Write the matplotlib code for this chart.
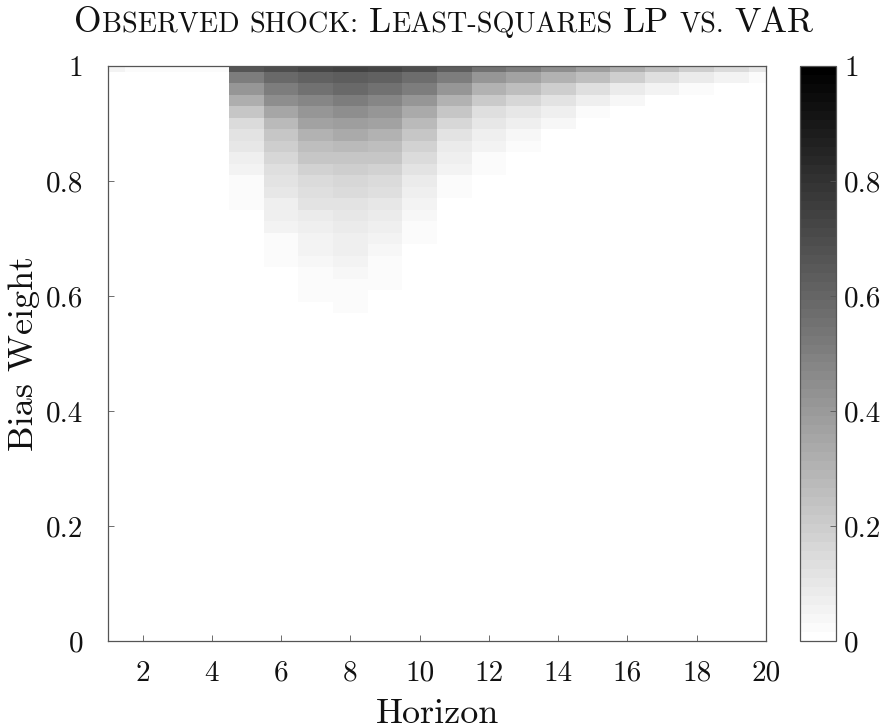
import numpy as np
import matplotlib
matplotlib.use("Agg")
import matplotlib.pyplot as plt
from matplotlib.offsetbox import TextArea, HPacker, AnnotationBbox

plt.rcParams["font.family"] = "cmr10"
plt.rcParams["axes.formatter.use_mathtext"] = True

# horizons (x) and bias-weight grid (y, step 0.02, read top-down from 1.00)
horizons = np.arange(1, 21)
weights = np.round(np.arange(1.00, 0.555, -0.02), 2)

# shading value per horizon, from weight 1.00 downwards (rest is zero / white)
col_values = [
    [0.06],
    [0.03],
    [0.03],
    [0.03],
    [0.66, 0.50, 0.41, 0.32, 0.22, 0.15, 0.12, 0.10, 0.07, 0.06, 0.03, 0.03, 0.03],
    [0.70, 0.58, 0.51, 0.44, 0.35, 0.28, 0.23, 0.20, 0.17, 0.14, 0.11, 0.10, 0.07,
     0.07, 0.05, 0.03, 0.03, 0.03],
    [0.72, 0.61, 0.55, 0.48, 0.42, 0.36, 0.30, 0.25, 0.22, 0.18, 0.15, 0.14, 0.11,
     0.09, 0.07, 0.06, 0.05, 0.04, 0.03, 0.03, 0.03],
    [0.74, 0.64, 0.58, 0.51, 0.45, 0.39, 0.33, 0.28, 0.23, 0.20, 0.17, 0.15, 0.12,
     0.10, 0.09, 0.07, 0.07, 0.05, 0.04, 0.03, 0.03, 0.02],
    [0.72, 0.61, 0.55, 0.48, 0.42, 0.36, 0.30, 0.25, 0.22, 0.18, 0.15, 0.13, 0.10,
     0.08, 0.07, 0.05, 0.04, 0.03, 0.03, 0.02],
    [0.70, 0.57, 0.50, 0.42, 0.34, 0.27, 0.22, 0.18, 0.15, 0.12, 0.09, 0.07, 0.06,
     0.04, 0.03, 0.03],
    [0.63, 0.51, 0.41, 0.31, 0.23, 0.16, 0.12, 0.09, 0.07, 0.05, 0.03, 0.03],
    [0.56, 0.42, 0.31, 0.21, 0.14, 0.10, 0.07, 0.05, 0.03, 0.02],
    [0.50, 0.36, 0.25, 0.16, 0.10, 0.07, 0.04, 0.03],
    [0.44, 0.30, 0.20, 0.11, 0.07, 0.04],
    [0.38, 0.25, 0.14, 0.07, 0.03],
    [0.32, 0.20, 0.09, 0.04],
    [0.25, 0.14, 0.05],
    [0.20, 0.09, 0.03],
    [0.15, 0.05],
    [0.10, 0.03],
]

xticks = [2, 4, 6, 8, 10, 12, 14, 16, 18, 20]
yticks = [0, 0.2, 0.4, 0.6, 0.8, 1]
ytick_labels = ["0", "0.2", "0.4", "0.6", "0.8", "1"]

# build grid (weights x horizons)
Z = np.zeros((len(weights), len(horizons)))
for j, vals in enumerate(col_values):
    Z[:len(vals), j] = vals

cmap = matplotlib.colormaps["gray_r"].resampled(64)
edge = "#555555"

fig = plt.figure(figsize=(8.88, 7.28), dpi=100)
ax = fig.add_axes([108 / 888, 87 / 728, 658 / 888, 575 / 728])
mesh = ax.pcolormesh(horizons, weights, Z, cmap=cmap, vmin=0, vmax=1,
                     shading="nearest")
ax.set_xlim(1, 20)
ax.set_ylim(0, 1)
ax.set_xticks(xticks)
ax.set_xticklabels([str(t) for t in xticks])
ax.set_yticks(yticks)
ax.set_yticklabels(ytick_labels)
ax.tick_params(direction="in", length=4, width=0.6, color=edge,
               labelsize=21, labelcolor="#111111")
ax.tick_params(axis="x", pad=14)
ax.tick_params(axis="y", pad=18)
for s in ax.spines.values():
    s.set_color(edge)
    s.set_linewidth(0.9)
ax.set_xlabel("Horizon", fontsize=26, labelpad=8, color="#111111")
ax.set_ylabel("Bias Weight", fontsize=26, color="#111111")
ax.yaxis.set_label_coords(-0.103, 0.5)

# colorbar
cax = fig.add_axes([800 / 888, 87 / 728, 36 / 888, 575 / 728])
cb = fig.colorbar(mesh, cax=cax)
cb.set_ticks(yticks)
cb.set_ticklabels(ytick_labels)
cb.outline.set_edgecolor(edge)
cb.outline.set_linewidth(0.9)
cax.tick_params(direction="in", length=4, width=0.6, color=edge,
                labelsize=21, labelcolor="#111111", pad=6)

# small-caps title
big, small = 25.5, 20.3
words = [
    [("O", big), ("BSERVED", small)],
    [("SHOCK:", small)],
    [("L", big), ("EAST-SQUARES", small)],
    [("LP", big)],
    [("VS.", small)],
    [("VAR", big)],
]
boxes = []
for w in words:
    parts = [TextArea(t, textprops=dict(fontsize=fs, family="cmr10",
                                         color="#111111")) for t, fs in w]
    boxes.append(HPacker(children=parts, align="baseline", pad=0, sep=0))
title = HPacker(children=boxes, align="baseline", pad=0, sep=7.5)
ab = AnnotationBbox(title, (0.5, 0.968), xycoords="figure fraction",
                    box_alignment=(0.5, 0.5), frameon=False, pad=0)
fig.add_artist(ab)

fig.savefig("out.png", dpi=100)
